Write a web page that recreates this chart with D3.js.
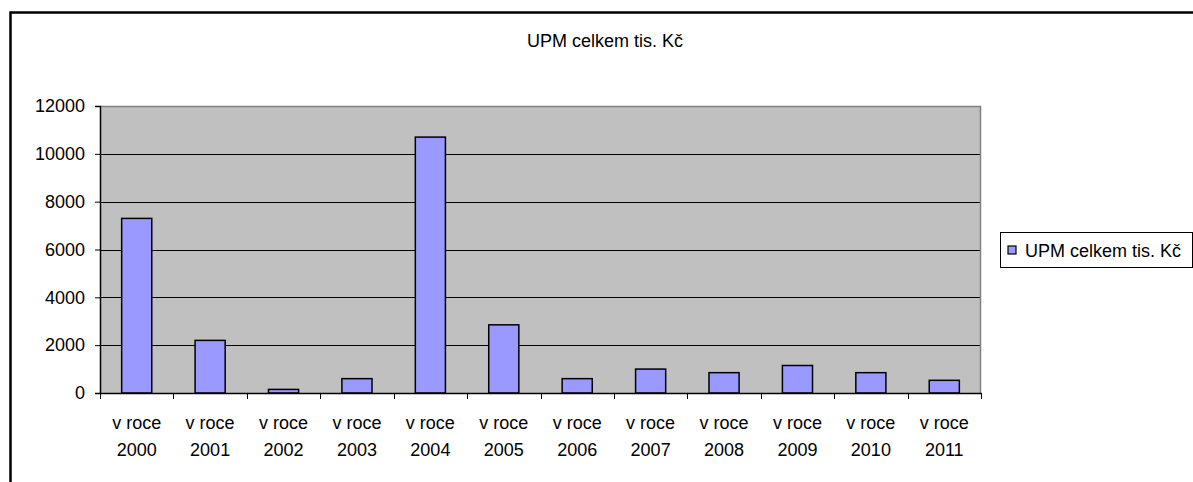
<!DOCTYPE html>
<html>
<head>
<meta charset="utf-8">
<script src="https://cdn.jsdelivr.net/npm/d3@7"></script>
<style>
  html, body { margin: 0; padding: 0; background: #fff; }
  svg { display: block; font-family: "Liberation Sans", Arial, sans-serif; }
</style>
</head>
<body>
<svg id="chart" width="1193" height="482"></svg>
<script>
const title = "UPM celkem tis. Kč";
const seriesName = "UPM celkem tis. Kč";
const categories = ["v roce 2000", "v roce 2001", "v roce 2002", "v roce 2003", "v roce 2004", "v roce 2005",
                    "v roce 2006", "v roce 2007", "v roce 2008", "v roce 2009", "v roce 2010", "v roce 2011"];
const values = [7300, 2200, 150, 600, 10700, 2850, 600, 1000, 850, 1150, 850, 530];
const yTicks = [0, 2000, 4000, 6000, 8000, 10000, 12000];

const svg = d3.select("#chart");
const W = 1193, H = 482;
const plot = { left: 100, right: 981, top: 106, bottom: 393 };

// outer chart border (clipped by page)
svg.append("rect")
  .attr("x", 10.5).attr("y", 12.5)
  .attr("width", 1200).attr("height", 500)
  .attr("fill", "#fff").attr("stroke", "#000").attr("stroke-width", 2.5);

const x = d3.scaleBand().domain(categories).range([plot.left, plot.right]).padding(0);
const y = d3.scaleLinear().domain([0, 12000]).range([plot.bottom, plot.top]);

// plot background
svg.append("rect")
  .attr("x", plot.left).attr("y", plot.top)
  .attr("width", plot.right - plot.left).attr("height", plot.bottom - plot.top)
  .attr("fill", "#c0c0c0");

// gridlines
svg.append("g").selectAll("line").data(yTicks.filter(t => t > 0 && t < 12000)).join("line")
  .attr("x1", plot.left).attr("x2", plot.right)
  .attr("y1", d => Math.round(y(d)) + 0.5).attr("y2", d => Math.round(y(d)) + 0.5)
  .attr("stroke", "#000").attr("stroke-width", 1);

// plot border top/right (gray)
svg.append("path")
  .attr("d", `M${plot.left},${plot.top + 0.5}H${plot.right - 0.5}V${plot.bottom}`)
  .attr("fill", "none").attr("stroke", "#808080").attr("stroke-width", 1.5);

// bars
const barW = x.bandwidth() * 0.41;
svg.append("g").selectAll("rect").data(values).join("rect")
  .attr("x", (d, i) => x(categories[i]) + x.bandwidth() / 2 - barW / 2)
  .attr("y", d => y(d))
  .attr("width", barW)
  .attr("height", d => y(0) - y(d))
  .attr("fill", "#9999ff").attr("stroke", "#000").attr("stroke-width", 1.5);

// y axis
const yAxis = svg.append("g").attr("transform", `translate(${plot.left},0)`)
  .call(d3.axisLeft(y).tickValues(yTicks).tickFormat(d3.format("d")).tickSize(5).tickPadding(10));
yAxis.select(".domain").attr("stroke", "#000").attr("stroke-width", 1.5);
yAxis.selectAll(".tick line").attr("stroke", "#000");
yAxis.selectAll("text").attr("font-size", 18).attr("fill", "#000")
  .attr("font-family", "Liberation Sans, Arial, sans-serif");

// x axis
const xAxis = svg.append("g").attr("transform", `translate(0,${plot.bottom})`)
  .call(d3.axisBottom(x).tickSize(0).tickFormat(""));
xAxis.select(".domain").attr("stroke", "#000").attr("stroke-width", 1.5);
// category boundary ticks
const bounds = categories.map(c => x(c)).concat([plot.right]);
svg.append("g").selectAll("line").data(bounds).join("line")
  .attr("x1", d => Math.round(d) + 0.5).attr("x2", d => Math.round(d) + 0.5)
  .attr("y1", plot.bottom).attr("y2", plot.bottom + 6)
  .attr("stroke", "#000").attr("stroke-width", 1);

// x labels (two lines)
const xl = svg.append("g").selectAll("text").data(categories).join("text")
  .attr("text-anchor", "middle").attr("font-size", 18).attr("fill", "#000");
xl.each(function(d) {
  const parts = d.split(" ");
  const year = parts.pop();
  const first = parts.join(" ");
  const cx = x(d) + x.bandwidth() / 2;
  d3.select(this).append("tspan").attr("x", cx).attr("y", 429).text(first);
  d3.select(this).append("tspan").attr("x", cx).attr("y", 456).text(year);
});

// title
svg.append("text")
  .attr("x", 605).attr("y", 47)
  .attr("text-anchor", "middle").attr("font-size", 18).attr("fill", "#000")
  .text(title);

// legend
const lg = svg.append("g");
lg.append("rect").attr("x", 1000.5).attr("y", 232.5).attr("width", 192).attr("height", 35)
  .attr("fill", "#fff").attr("stroke", "#000").attr("stroke-width", 1);
lg.append("rect").attr("x", 1008).attr("y", 246).attr("width", 8).attr("height", 8)
  .attr("fill", "#9999ff").attr("stroke", "#000").attr("stroke-width", 1.2);
lg.append("text").attr("x", 1025).attr("y", 257).attr("font-size", 18).attr("fill", "#000")
  .text(seriesName);
</script>
</body>
</html>
